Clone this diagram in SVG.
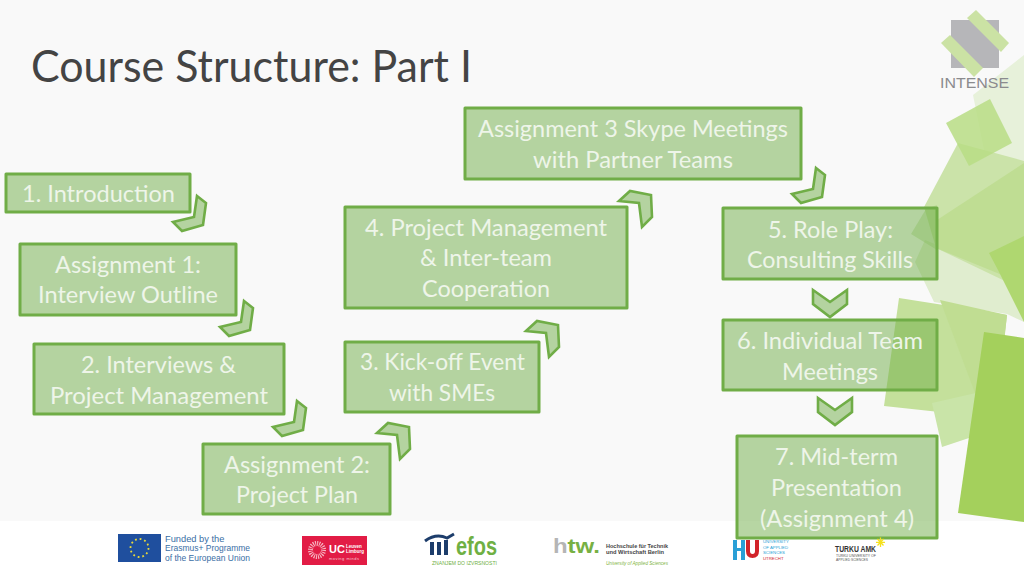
<svg xmlns="http://www.w3.org/2000/svg" width="1024" height="576" viewBox="0 0 1024 576">
<style>
.box{fill:#70ad47;fill-opacity:.5;stroke:#70ad47;stroke-width:3;stroke-linejoin:round}
.chev{fill:#70ad47;fill-opacity:.5;stroke:#70ad47;stroke-width:2.6;stroke-linejoin:miter}
.lbl{font-family:Lato,"Open Sans",sans-serif;font-size:23.5px;fill:#eef5e9}
.logo{font-family:"Liberation Sans",Arial,sans-serif}
</style>
<defs>
<polygon id="chevA" points="5,-18 14,-11 11,11 -10,17 -19,8 2,3"/>
<polygon id="chevB" points="-19,8 -8,-2 13,2 14,24 4,34 1,10"/>
<polygon id="chevC" points="-17,-13 0,-1 17,-13 17,1 0,14 -17,1"/>
</defs>
<rect width="1024" height="521" fill="#f9f9f9"/>
<rect y="521" width="1024" height="55" fill="#ffffff"/>
<g id="decor">
<polygon points="973,95 1024,55 1024,170 985,155" fill="#e7f1da"/>
<polygon points="925,240 1024,280 1024,322 1007,314 934,302 915,262" fill="#e0edcf"/>
<polygon points="924,207 958,143 1024,161 1024,290 936,248" fill="#cbe3a9"/>
<polygon points="937,220 1024,163 1024,284 936,248" fill="#bfdd93"/>
<polygon points="946,123 990,99 1012,143 969,166" fill="#b9dd85" fill-opacity=".85"/>
<polygon points="989,253 1024,236 1024,322 998,270" fill="#afd770"/>
<polygon points="911,234 926,209 937,205 937,250" fill="#a9d080" fill-opacity=".45"/>
<polygon points="899,298 1007,315 995,418 884,406" fill="#c4e09b"/>
<polygon points="932,403 976,393 972,437 942,447" fill="#c9e4a8"/>
<polygon points="940,300 1007,315 1000,380 975,393" fill="#c0dd92"/>
<polygon points="984,332 1024,338 1024,522 958,513" fill="#a4d05c"/>
</g>
<g id="intense-logo">
<rect x="951" y="20" width="48" height="48" fill="#b6b6b9"/>
<polygon points="976,10 1009,43 1001,52 967,18" fill="#cbe2a4"/>
<polygon points="941,43 950,35 983,68 974,77" fill="#cbe2a4"/>
<text class="logo" x="940" y="88" font-size="14.5" fill="#8b8b8e" textLength="69" lengthAdjust="spacingAndGlyphs">INTENSE</text>
</g>
<text x="31" y="82" font-family="Lato,'Open Sans',sans-serif" font-size="44" fill="#444444" textLength="441" lengthAdjust="spacingAndGlyphs">Course Structure: Part I</text>
<g id="connectors">
<use href="#chevA" class="chev" x="192" y="214"/>
<use href="#chevA" class="chev" x="239" y="319"/>
<use href="#chevA" class="chev" x="292" y="419"/>
<use href="#chevB" class="chev" x="396" y="425"/>
<use href="#chevB" class="chev" x="545" y="323"/>
<use href="#chevB" class="chev" x="638" y="193"/>
<use href="#chevA" class="chev" x="811" y="186"/>
<use href="#chevC" class="chev" x="830" y="303"/>
<use href="#chevC" class="chev" x="835" y="411"/>
</g>
<g id="node-intro"><rect class="box" x="6" y="174" width="184" height="38"/>
<text class="lbl" x="22" y="202" textLength="153" lengthAdjust="spacingAndGlyphs">1. Introduction</text></g>
<g id="node-a1"><rect class="box" x="20" y="244" width="216" height="71"/>
<text class="lbl" x="55" y="273" textLength="146" lengthAdjust="spacingAndGlyphs">Assignment 1:</text>
<text class="lbl" x="38" y="303" textLength="180" lengthAdjust="spacingAndGlyphs">Interview Outline</text></g>
<g id="node-2"><rect class="box" x="34" y="344" width="250" height="70"/>
<text class="lbl" x="81" y="373" textLength="155" lengthAdjust="spacingAndGlyphs">2. Interviews &amp;</text>
<text class="lbl" x="50" y="404" textLength="218" lengthAdjust="spacingAndGlyphs">Project Management</text></g>
<g id="node-a2"><rect class="box" x="203" y="444" width="187" height="70"/>
<text class="lbl" x="224" y="473" textLength="146" lengthAdjust="spacingAndGlyphs">Assignment 2:</text>
<text class="lbl" x="236" y="503" textLength="122" lengthAdjust="spacingAndGlyphs">Project Plan</text></g>
<g id="node-3"><rect class="box" x="345" y="342" width="194" height="70"/>
<text class="lbl" x="360" y="370" textLength="165" lengthAdjust="spacingAndGlyphs">3. Kick-off Event</text>
<text class="lbl" x="389" y="401" textLength="106" lengthAdjust="spacingAndGlyphs">with SMEs</text></g>
<g id="node-4"><rect class="box" x="345" y="207" width="282" height="101"/>
<text class="lbl" x="365" y="236" textLength="242" lengthAdjust="spacingAndGlyphs">4. Project Management</text>
<text class="lbl" x="420" y="266" textLength="132" lengthAdjust="spacingAndGlyphs">&amp; Inter-team</text>
<text class="lbl" x="422" y="297" textLength="128" lengthAdjust="spacingAndGlyphs">Cooperation</text></g>
<g id="node-a3"><rect class="box" x="465" y="108" width="336" height="71"/>
<text class="lbl" x="478" y="137" textLength="310" lengthAdjust="spacingAndGlyphs">Assignment 3 Skype Meetings</text>
<text class="lbl" x="533" y="168" textLength="200" lengthAdjust="spacingAndGlyphs">with Partner Teams</text></g>
<g id="node-5"><rect class="box" x="723" y="208" width="214" height="71"/>
<text class="lbl" x="768" y="238" textLength="125" lengthAdjust="spacingAndGlyphs">5. Role Play:</text>
<text class="lbl" x="747" y="268" textLength="166" lengthAdjust="spacingAndGlyphs">Consulting Skills</text></g>
<g id="node-6"><rect class="box" x="723" y="320" width="214" height="70"/>
<text class="lbl" x="737" y="349" textLength="186" lengthAdjust="spacingAndGlyphs">6. Individual Team</text>
<text class="lbl" x="782" y="380" textLength="96" lengthAdjust="spacingAndGlyphs">Meetings</text></g>
<g id="node-7"><rect class="box" x="737" y="436" width="200" height="102"/>
<text class="lbl" x="775" y="465" textLength="123" lengthAdjust="spacingAndGlyphs">7. Mid-term</text>
<text class="lbl" x="771" y="496" textLength="131" lengthAdjust="spacingAndGlyphs">Presentation</text>
<text class="lbl" x="760" y="527" textLength="154" lengthAdjust="spacingAndGlyphs">(Assignment 4)</text></g>
<g id="logo-eu">
<rect x="118" y="534" width="43" height="28" fill="#1f4f9e"/>
<circle cx="139.500" cy="548" r="9" fill="none" stroke="#e8d83a" stroke-width="1.800" stroke-dasharray="1.800 2.900"/>
<g class="logo" font-size="9.300" fill="#3a6ea5"><text x="165" y="542">Funded by the</text><text x="165" y="551" textLength="85" lengthAdjust="spacingAndGlyphs">Erasmus+ Programme</text><text x="165" y="561" textLength="85" lengthAdjust="spacingAndGlyphs">of the European Union</text></g>
</g>
<g id="logo-uc">
<rect x="302" y="536" width="65" height="29" fill="#e21c45"/>
<circle cx="317" cy="550" r="6.500" fill="none" stroke="#f6b9c4" stroke-width="5" stroke-dasharray="1 1"/>
<text class="logo" x="329" y="553" font-size="11" font-weight="700" fill="#fff">UC</text>
<text class="logo" x="346" y="548" font-size="4.500" font-weight="700" fill="#fff">Leuven</text>
<text class="logo" x="346" y="553" font-size="4.500" font-weight="700" fill="#fff">Limburg</text>
<text class="logo" x="329" y="559.500" font-size="4" fill="#f7c5cf" textLength="30">moving minds</text>
</g>
<g id="logo-efos">
<rect x="430" y="542" width="4" height="13" fill="#1d3d6b"/><rect x="437" y="542" width="4" height="13" fill="#1d3d6b"/><rect x="444" y="540" width="4" height="15" fill="#1d3d6b"/>
<path d="M425 541Q436 533 447 538L454 534" fill="none" stroke="#1d3d6b" stroke-width="3"/>
<text class="logo" x="456" y="555" font-size="25" font-weight="700" fill="#6fb043" textLength="41" lengthAdjust="spacingAndGlyphs">efos</text>
<text class="logo" x="432" y="565" font-size="4.500" fill="#6fb043" textLength="65" lengthAdjust="spacingAndGlyphs">ZNANJEM DO IZVRSNOSTI</text>
</g>
<g id="logo-htw">
<text class="logo" x="553" y="553" font-size="20" font-weight="700" textLength="47" lengthAdjust="spacingAndGlyphs"><tspan fill="#b5b5b5">h</tspan><tspan fill="#77b043">tw.</tspan></text>
<text class="logo" x="606" y="547.500" font-size="6" font-weight="700" fill="#444" textLength="62" lengthAdjust="spacingAndGlyphs">Hochschule für Technik</text>
<text class="logo" x="606" y="554" font-size="6" font-weight="700" fill="#444" textLength="58" lengthAdjust="spacingAndGlyphs">und Wirtschaft Berlin</text>
<text class="logo" x="606" y="565" font-size="5" font-style="italic" fill="#7fb53f" textLength="62" lengthAdjust="spacingAndGlyphs">University of Applied Sciences</text>
</g>
<g id="logo-hu">
<rect x="733" y="540" width="4" height="20" fill="#2a9fd6"/><rect x="741" y="540" width="4" height="20" fill="#2a9fd6"/><rect x="737" y="548" width="4" height="3" fill="#2a9fd6"/>
<path d="M748 540V551Q748 556 752.500 556Q757 556 757 551V540" fill="none" stroke="#d2232a" stroke-width="4"/>
<g class="logo" font-size="4.300" fill="#2a9fd6"><text x="763" y="543">UNIVERSITY</text><text x="763" y="548.500">OF APPLIED</text><text x="763" y="554">SCIENCES</text><text x="763" y="559.500" fill="#d2232a">UTRECHT</text></g>
</g>
<g id="logo-turku">
<text class="logo" x="835" y="552" font-size="9.500" font-weight="700" fill="#333" textLength="41" lengthAdjust="spacingAndGlyphs">TURKU AMK</text>
<text class="logo" x="836" y="557" font-size="3.800" fill="#555" textLength="40" lengthAdjust="spacingAndGlyphs">TURKU UNIVERSITY OF</text>
<text class="logo" x="836" y="561" font-size="3.800" fill="#555" textLength="32" lengthAdjust="spacingAndGlyphs">APPLIED SCIENCES</text>
<path d="M880.500 537.500V547M876 542.300H885M877.500 539L883.500 545.500M883.500 539L877.500 545.500" stroke="#f5e11e" stroke-width="1.300"/>
</g>
</svg>
